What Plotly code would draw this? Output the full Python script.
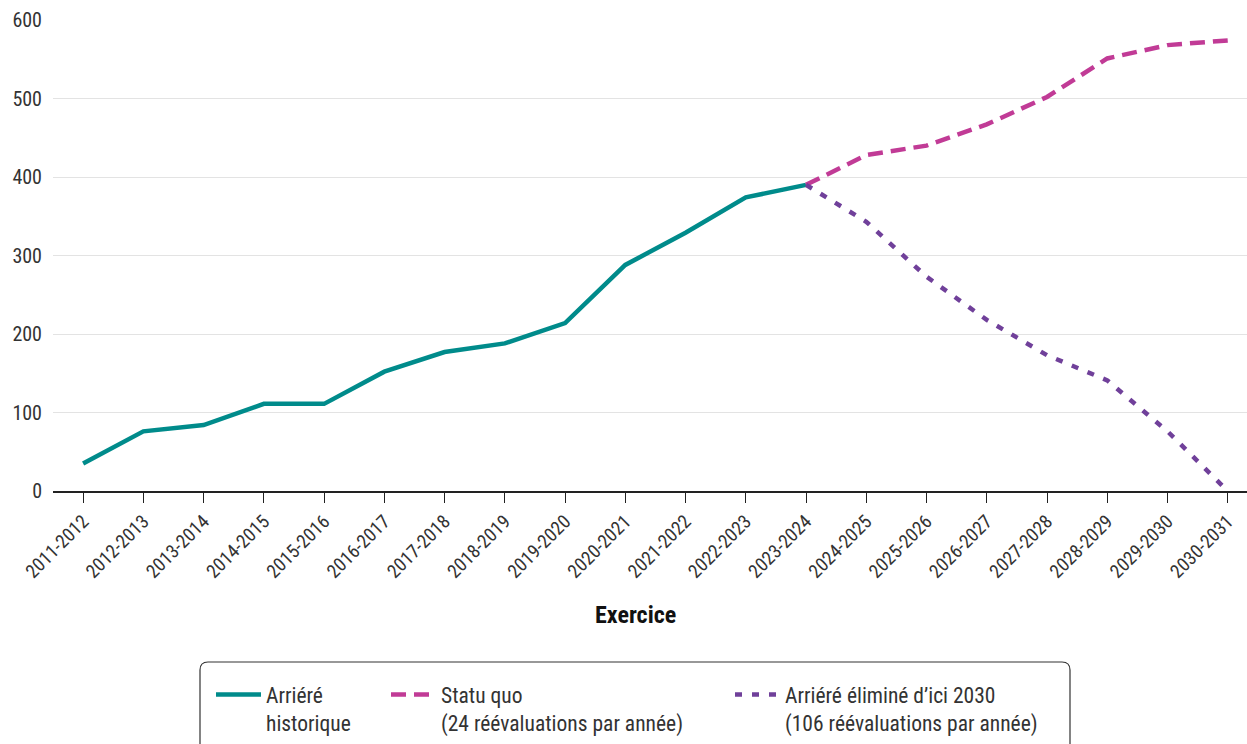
import plotly.graph_objects as go

# Fiscal years on the x axis
exercices = ["2011-2012", "2012-2013", "2013-2014", "2014-2015", "2015-2016",
             "2016-2017", "2017-2018", "2018-2019", "2019-2020", "2020-2021",
             "2021-2022", "2022-2023", "2023-2024", "2024-2025", "2025-2026",
             "2026-2027", "2027-2028", "2028-2029", "2029-2030", "2030-2031"]

# Historical backlog (2011-2012 to 2023-2024)
historique_x = exercices[:13]
historique_y = [35, 76, 84, 111, 111, 152, 177, 188, 214, 288, 329, 374, 390]

# Projections starting from 2023-2024
projection_x = exercices[12:]
statu_quo_y = [390, 428, 440, 467, 502, 551, 568, 574]
elimination_y = [390, 343, 273, 218, 173, 141, 76, 0]

TEAL = "#008B8B"
MAGENTA = "#C13B96"
PURPLE = "#70409A"
FONT = "Roboto Condensed, Liberation Sans Narrow, Roboto, sans-serif"

W, H = 1247, 744
ML, MR, MT, MB = 53, 0, 20, 253
PW, PH = W - ML - MR, H - MT - MB


def px_x(p):
    return (p - ML) / PW


def px_y(p):
    return (H - MB - p) / PH


fig = go.Figure()

fig.add_trace(go.Scatter(
    x=historique_x, y=historique_y, mode="lines",
    name="Arriéré<br>historique",
    line=dict(color=TEAL, width=4.5),
    legend="legend",
))
fig.add_trace(go.Scatter(
    x=projection_x, y=statu_quo_y, mode="lines",
    name="Statu quo<br>(24 réévaluations par année)",
    line=dict(color=MAGENTA, width=4.5, dash="15px,8px"),
    legend="legend2",
))
fig.add_trace(go.Scatter(
    x=projection_x, y=elimination_y, mode="lines",
    name="Arriéré éliminé d’ici 2030<br>(106 réévaluations par année)",
    line=dict(color=PURPLE, width=4.5, dash="7px,10px"),
    legend="legend3",
))

# Rounded frame around the legend entries
x0, x1 = px_x(200), px_x(1070)
y0, y1 = px_y(662), px_y(760)
rx, ry = 8 / PW, 8 / PH
path = (f"M{x0},{y1} L{x0},{y0 - ry} Q{x0},{y0} {x0 + rx},{y0} "
        f"L{x1 - rx},{y0} Q{x1},{y0} {x1},{y0 - ry} L{x1},{y1}")
fig.add_shape(type="path", path=path, xref="paper", yref="paper",
              line=dict(color="#333333", width=1.2), layer="below")

# X axis title
fig.add_annotation(text="<b>Exercice</b>", xref="paper", yref="paper",
                   x=px_x(635), y=px_y(615), xanchor="center", yanchor="middle",
                   showarrow=False, font=dict(family=FONT, size=24, color="#111111"))

legend_common = dict(
    orientation="h", xanchor="left", yanchor="top", valign="top",
    bgcolor="rgba(0,0,0,0)", borderwidth=0, itemwidth=45,
    font=dict(family=FONT, size=21.5, color="#333333"),
)

fig.update_layout(
    width=W, height=H,
    margin=dict(l=ML, r=MR, t=MT, b=MB),
    paper_bgcolor="white", plot_bgcolor="white",
    font=dict(family=FONT, color="#333333"),
    showlegend=True,
    legend=dict(x=px_x(211), y=px_y(674), **legend_common),
    legend2=dict(x=px_x(386), y=px_y(674), **legend_common),
    legend3=dict(x=px_x(730), y=px_y(674), **legend_common),
    xaxis=dict(
        type="category", categoryorder="array", categoryarray=exercices,
        range=[-0.5, 19.32],
        tickangle=-45, tickfont=dict(family=FONT, size=19, color="#333333"),
        ticks="outside", ticklen=10, tickcolor="#222222", tickwidth=1.2,
        showline=True, linecolor="#222222", linewidth=1.5,
        showgrid=False,
    ),
    yaxis=dict(
        range=[0, 600], tickvals=[0, 100, 200, 300, 400, 500, 600],
        tickfont=dict(family=FONT, size=20, color="#333333"),
        showgrid=True, gridcolor="#E3E3E3", gridwidth=1,
        zeroline=False, showline=False, ticks="", ticklabelstandoff=10,
    ),
)

fig.write_html("out.html")
